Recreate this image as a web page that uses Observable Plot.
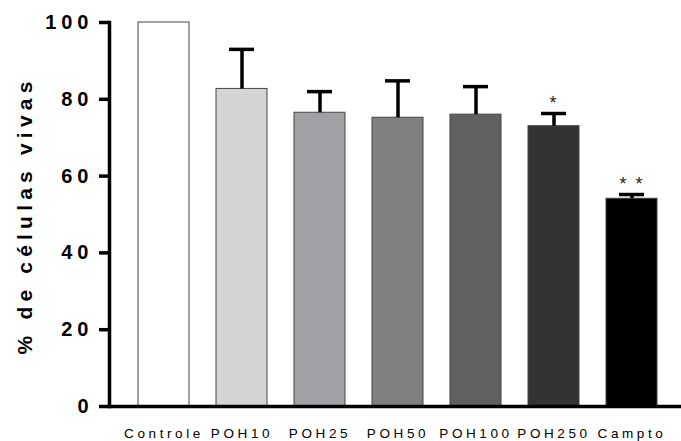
<!DOCTYPE html>
<html>
<head>
<meta charset="utf-8">
<script src="https://cdn.jsdelivr.net/npm/d3@7"></script>
<script src="https://cdn.jsdelivr.net/npm/@observablehq/plot@0.6"></script>
<style>
  html, body { margin: 0; padding: 0; background: #fff; }
  #chart svg { display: block; }
</style>
</head>
<body>
<div id="chart"></div>
<script>
const categories = ["Controle", "POH10", "POH25", "POH50", "POH100", "POH250", "Campto"];
const means = [100, 82.7, 76.5, 75.2, 76.0, 73.0, 54.1];
const errors = [0, 10.3, 5.5, 9.6, 7.3, 3.3, 1.1];
const fills = ["#ffffff", "#d4d4d4", "#a1a1a5", "#808080", "#606060", "#333333", "#000000"];
const signif = ["", "", "", "", "", "*", "* *"];
const yTicks = [0, 20, 40, 60, 80, 100];
const yLabel = "% de células vivas";

const data = categories.map((c, i) => ({
  name: c, mean: means[i], upper: means[i] + errors[i], fill: fills[i], sig: signif[i], err: errors[i]
}));
const withErr = data.filter(d => d.err > 0);
const withSig = data.filter(d => d.sig);

const plot = Plot.plot({
  width: 681,
  height: 441,
  marginLeft: 109,
  marginRight: 0,
  marginTop: 22,
  marginBottom: 35,
  style: {fontFamily: "'Liberation Sans', Arial, sans-serif", background: "#fff", color: "#000"},
  x: {domain: categories, range: [109, 686], padding: 0.34, label: null},
  y: {domain: [0, 100], label: null},
  marks: [
    Plot.barY(data, {x: "name", y: "mean", fill: d => d.fill, stroke: "#444", strokeWidth: 1}),
    Plot.ruleX(withErr, {x: "name", y1: "mean", y2: "upper", stroke: "#000", strokeWidth: 3.5}),
    Plot.tickY(withErr, {x: "name", y: "upper", stroke: "#000", strokeWidth: 3.5, insetLeft: 13, insetRight: 13}),
    Plot.text(withSig, {x: "name", y: "upper", text: "sig", lineAnchor: "bottom", dy: -5, fontSize: 18, fill: "#222", ariaDescription: "signif"}),
    Plot.ruleY([0], {stroke: "#000", strokeWidth: 3.5}),
    Plot.frame({anchor: "left", stroke: "#000", strokeWidth: 3.5}),
    Plot.axisY({ticks: yTicks, tickSize: 10, tickPadding: 6, strokeWidth: 3.5, fontSize: 20, fontWeight: "bold", label: null}),
    Plot.axisX({tickSize: 0, tickPadding: 22, fontSize: 13.5, label: null}),
    Plot.text([yLabel], {frameAnchor: "left", textAnchor: "middle", rotate: -90, dx: -84.7, dy: 1, fontSize: 21, fontWeight: "bold", fill: "#000", ariaDescription: "ylabel"})
  ]
});
document.getElementById("chart").appendChild(plot);
const svg = d3.select(plot);
svg.selectAll('g[aria-label="y-axis tick label"] text').attr("letter-spacing", "5px").style("letter-spacing", "5px");
svg.selectAll('g[aria-label="x-axis tick label"] text').attr("letter-spacing", "3.6px").style("letter-spacing", "3.6px");
svg.selectAll('g[aria-description="ylabel"] text').attr("letter-spacing", "5.2px").style("letter-spacing", "5.2px");
svg.selectAll('g[aria-description="signif"] text').attr("letter-spacing", "2px").style("letter-spacing", "2px");
</script>
</body>
</html>
